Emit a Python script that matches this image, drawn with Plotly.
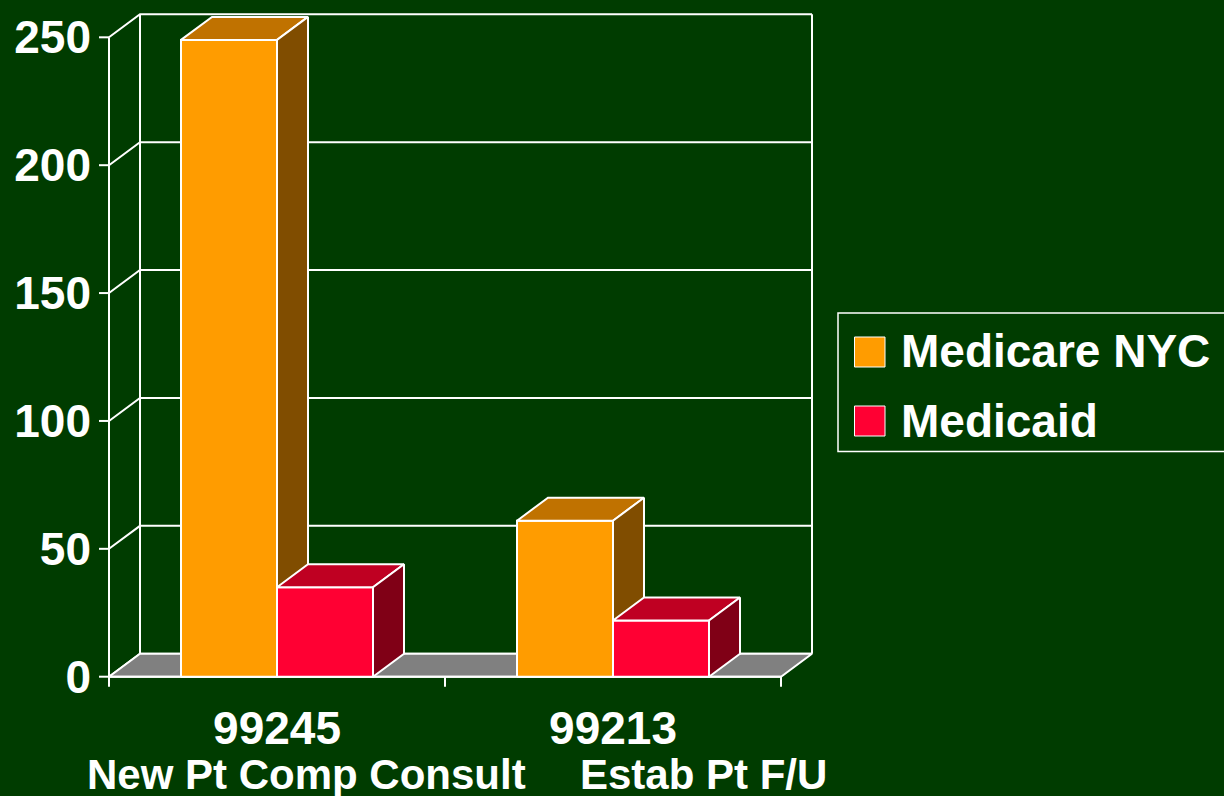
import plotly.graph_objects as go

# ---------------- data ----------------
categories = ["99245", "99213"]
descriptions = ["New Pt Comp Consult", "Estab Pt F/U"]
series_names = ["Medicare NYC", "Medicaid"]
medicare = [249, 61]
medicaid = [35, 22]
y_ticks = [0, 50, 100, 150, 200, 250]

# ---------------- style ----------------
BG = "#003C00"
WHITE = "#FFFFFF"
FLOOR = "#808080"
FACE_COLORS = [
    {"front": "#FF9C00", "top": "#C07200", "side": "#804D00"},
    {"front": "#FF0033", "top": "#BF0022", "side": "#800016"},
]
FONT = "Liberation Sans, Arial, Helvetica, sans-serif"

PX_PER_CAT = 336.0      # pixels per category unit
PX_PER_Y = 2.5576       # pixels per value unit
DX = 31 / PX_PER_CAT    # 3-D depth offset (x units)
DY = 23 / PX_PER_Y      # 3-D depth offset (y units)
BAR_W = 96 / PX_PER_CAT
TICK_X = 10 / PX_PER_CAT
TICK_Y = 10 / PX_PER_Y

X_LO = -0.5 - 12 / PX_PER_CAT
X_HI = -0.5 + (816 - 109) / PX_PER_CAT
Y_LO = -5.2
Y_HI = 259.9

xs = list(range(len(categories)))
x_left = xs[0] - 0.5
x_right = xs[-1] + 0.5
y_top = max(y_ticks)

fig = go.Figure()


def add_lines(px, py, width=2):
    fig.add_trace(go.Scatter(x=px, y=py, mode="lines",
                             line=dict(color=WHITE, width=width),
                             hoverinfo="skip", showlegend=False))


def add_polys(polys, color, name):
    px, py = [], []
    for poly in polys:
        for (a, b) in poly + [poly[0]]:
            px.append(a)
            py.append(b)
        px.append(None)
        py.append(None)
    fig.add_trace(go.Scatter(x=px, y=py, mode="lines", fill="toself",
                             fillcolor=color, name=name,
                             line=dict(color=WHITE, width=2),
                             hoverinfo="skip", showlegend=False))


# ---- walls: side-wall diagonals, back-wall gridlines and edges ----
gx, gy = [], []
for v in y_ticks:
    gx += [x_left, x_left + DX, x_right + DX, None]
    gy += [v, v + DY, v + DY, None]
gx += [x_left + DX, x_left + DX, None, x_right + DX, x_right + DX, None]
gy += [DY, y_top + DY, None, DY, y_top + DY, None]
add_lines(gx, gy)

# ---- floor ----
add_polys([[(x_left, 0), (x_right, 0), (x_right + DX, DY), (x_left + DX, DY)]],
          FLOOR, "floor")

# ---- front axes, ticks ----
ax_x, ax_y = [x_left, x_left, None, x_left, x_right, None], [0, y_top, None, 0, 0, None]
for v in y_ticks:
    ax_x += [x_left - TICK_X, x_left, None]
    ax_y += [v, v, None]
for b in [x_left] + [c + 0.5 for c in xs]:
    ax_x += [b, b, None]
    ax_y += [0, -TICK_Y, None]
add_lines(ax_x, ax_y)

# ---- 3-D bars ----
for s, values in enumerate([medicare, medicaid]):
    fronts, tops, sides = [], [], []
    for c, v in zip(xs, values):
        x0 = c - BAR_W + s * BAR_W
        x1 = x0 + BAR_W
        fronts.append([(x0, 0), (x1, 0), (x1, v), (x0, v)])
        tops.append([(x0, v), (x1, v), (x1 + DX, v + DY), (x0 + DX, v + DY)])
        sides.append([(x1, 0), (x1 + DX, DY), (x1 + DX, v + DY), (x1, v)])
    add_polys(fronts, FACE_COLORS[s]["front"], series_names[s])
    add_polys(tops, FACE_COLORS[s]["top"], series_names[s])
    add_polys(sides, FACE_COLORS[s]["side"], series_names[s])

# ---- category descriptions ----
desc_shift = [29, 90]
for c, d, sh in zip(xs, descriptions, desc_shift):
    fig.add_annotation(x=c, y=-0.1239, xref="x", yref="paper", text=d,
                       showarrow=False, xanchor="center", yanchor="middle",
                       xshift=sh,
                       font=dict(family=FONT, size=42, color=WHITE, weight="bold"))

# ---- manual legend ----
def px_to_paper_x(p):
    return (p - 97) / 719.0


def px_to_paper_y(p):
    return (690 - p) / 678.0


fig.add_shape(type="rect", xref="paper", yref="paper",
              x0=px_to_paper_x(838), x1=px_to_paper_x(1232),
              y0=px_to_paper_y(451.5), y1=px_to_paper_y(313),
              line=dict(color=WHITE, width=1.5), fillcolor=BG, layer="above")
legend_rows = [(337, 367, 350.5), (406, 436, 421)]
for s, (t, b, mid) in enumerate(legend_rows):
    fig.add_shape(type="rect", xref="paper", yref="paper",
                  x0=px_to_paper_x(854.5), x1=px_to_paper_x(885),
                  y0=px_to_paper_y(b), y1=px_to_paper_y(t),
                  line=dict(color=WHITE, width=1),
                  fillcolor=FACE_COLORS[s]["front"], layer="above")
    fig.add_annotation(x=px_to_paper_x(899), y=px_to_paper_y(mid),
                       xref="paper", yref="paper", text=series_names[s],
                       showarrow=False, xanchor="left", yanchor="middle",
                       font=dict(family=FONT, size=46, color=WHITE, weight="bold"))

fig.update_layout(
    width=1224, height=796,
    margin=dict(l=97, r=408, t=12, b=106, pad=0),
    paper_bgcolor=BG, plot_bgcolor=BG,
    showlegend=False,
    xaxis=dict(range=[X_LO, X_HI], showgrid=False, zeroline=False, showline=False,
               tickvals=xs, ticktext=categories, ticks="", automargin=False,
               ticklabelstandoff=7,
               tickfont=dict(family=FONT, size=46, color=WHITE, weight="bold")),
    yaxis=dict(range=[Y_LO, Y_HI], showgrid=False, zeroline=False, showline=False,
               tickvals=y_ticks, ticktext=[str(v) for v in y_ticks], ticks="",
               automargin=False, ticklabelstandoff=5,
               tickfont=dict(family=FONT, size=46, color=WHITE, weight="bold")),
)

page_css = (
    "document.documentElement.style.margin='0';"
    "document.body.style.margin='0';"
    "document.body.style.padding='0';"
    "document.body.style.overflow='hidden';"
    "document.body.style.background='" + BG + "';"
)
fig.write_html("out.html", post_script=page_css,
               config={"displayModeBar": False, "staticPlot": True})
